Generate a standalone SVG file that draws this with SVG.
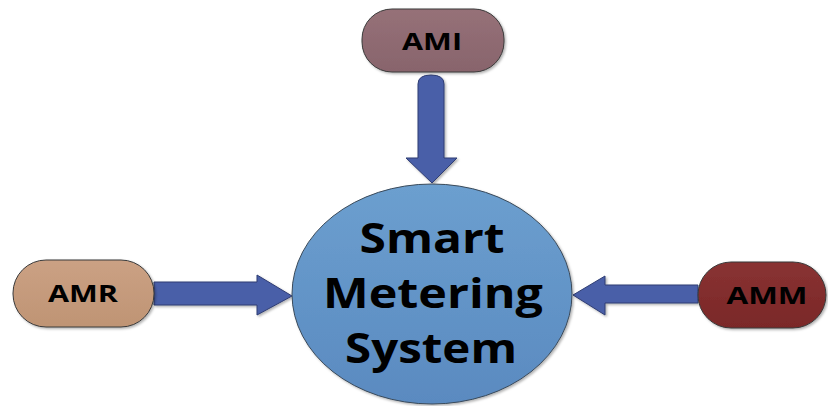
<svg xmlns="http://www.w3.org/2000/svg" width="828" height="406" viewBox="0 0 828 406">
<style>
.lbl{font-family:"Open Sans","Liberation Sans",sans-serif;font-weight:bold;fill:#000;text-anchor:middle}
.small{font-size:24px}
.big{font-size:41px}
.box{stroke:#3a3a3a;stroke-width:1}
.arrow{fill:#4a5ea8;stroke:#2e3d73;stroke-width:1}
</style>
<defs>
<linearGradient id="gEll" x1="0" y1="0" x2="0" y2="1"><stop offset="0" stop-color="#6c9fcf"/><stop offset="1" stop-color="#5a8ac0"/></linearGradient>
<linearGradient id="gAMI" x1="0" y1="0" x2="0" y2="1"><stop offset="0" stop-color="#967178"/><stop offset="1" stop-color="#88646c"/></linearGradient>
<linearGradient id="gAMR" x1="0" y1="0" x2="0" y2="1"><stop offset="0" stop-color="#cba184"/><stop offset="1" stop-color="#bf9474"/></linearGradient>
<linearGradient id="gAMM" x1="0" y1="0" x2="0" y2="1"><stop offset="0" stop-color="#893232"/><stop offset="1" stop-color="#7a2828"/></linearGradient>
<filter id="sh" x="-10%" y="-10%" width="130%" height="130%"><feDropShadow dx="1.5" dy="1.5" stdDeviation="1.2" flood-color="#000" flood-opacity="0.3"/></filter>
</defs>
<g id="connectors">
<path class="arrow" filter="url(#sh)" d="M418,84 Q418,75 431,75 Q444,75 444,84 L444,158 L457,158 L432,183 L406,158 L418,158 Z"/>
<path class="arrow" filter="url(#sh)" d="M154,282 L257,282 L257,275 L292,296 L257,315 L257,305 L154,305 Z"/>
<path class="arrow" filter="url(#sh)" d="M698,285 L605,285 L605,276 L573,295 L605,315 L605,303 L698,303 Z"/>
</g>
<g id="smart-metering-system">
<ellipse cx="432" cy="294" rx="140" ry="110" fill="url(#gEll)" stroke="#3a4a5a" stroke-width="1" filter="url(#sh)"/>
<text class="lbl big" x="432" y="253" textLength="145" lengthAdjust="spacingAndGlyphs">Smart</text>
<text class="lbl big" x="433" y="308" textLength="220" lengthAdjust="spacingAndGlyphs">Metering</text>
<text class="lbl big" x="431" y="363" textLength="172" lengthAdjust="spacingAndGlyphs">System</text>
</g>
<g id="ami">
<rect class="box" x="362" y="9" width="142" height="63" rx="30" fill="url(#gAMI)" filter="url(#sh)"/>
<text class="lbl small" x="432" y="50" textLength="60" lengthAdjust="spacingAndGlyphs">AMI</text>
</g>
<g id="amr">
<rect class="box" x="13" y="260" width="141" height="67" rx="33" fill="url(#gAMR)" filter="url(#sh)"/>
<text class="lbl small" x="83" y="302" textLength="70" lengthAdjust="spacingAndGlyphs">AMR</text>
</g>
<g id="amm">
<rect class="box" x="698" y="262" width="128" height="66" rx="33" fill="url(#gAMM)" filter="url(#sh)"/>
<text class="lbl small" x="767" y="304" textLength="81" lengthAdjust="spacingAndGlyphs">AMM</text>
</g>
</svg>
